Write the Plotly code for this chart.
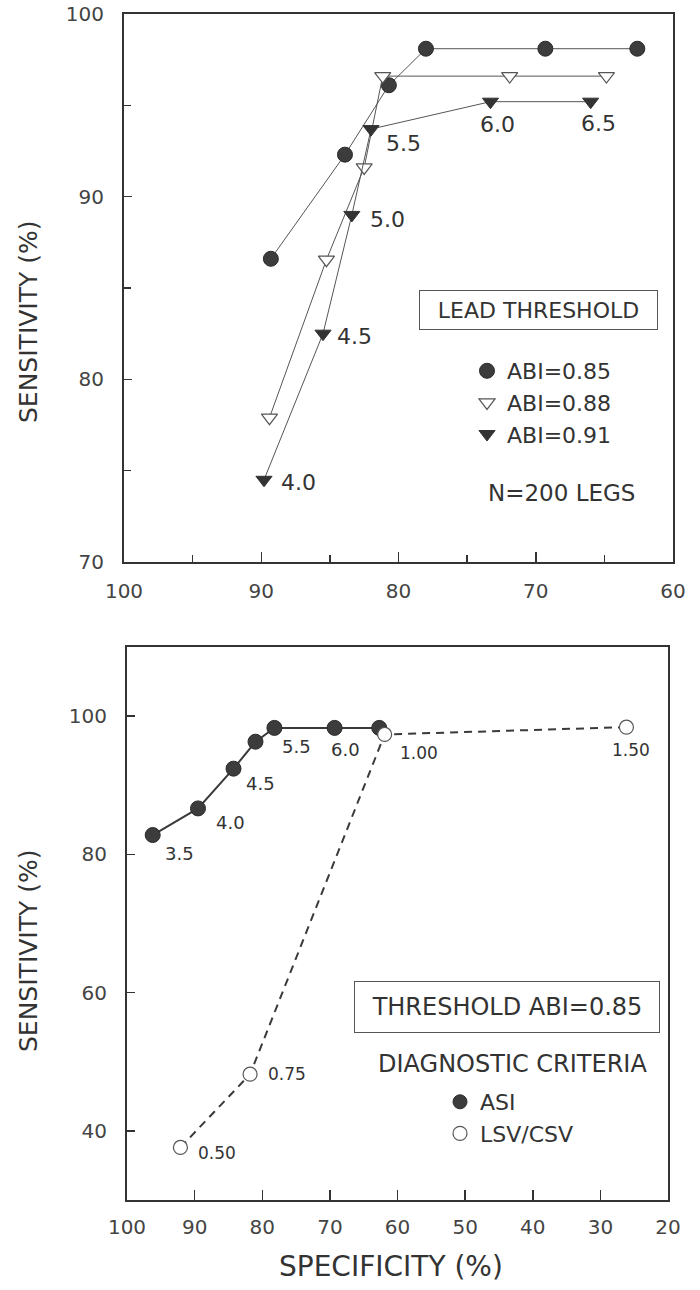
import plotly.graph_objects as go

# ---------------- data ----------------
# Top panel: lead threshold, three ABI cut-offs
lead_labels = ["4.0", "4.5", "5.0", "5.5", "6.0", "6.5"]
spec_abi085 = [89.3, 83.9, 80.7, 78.0, 69.3, 62.6]
sens_abi085 = [86.6, 92.3, 96.1, 98.1, 98.1, 98.1]
spec_abi088 = [89.4, 85.25, 82.5, 81.15, 71.9, 64.85]
sens_abi088 = [77.9, 86.55, 91.6, 96.6, 96.6, 96.6]
spec_abi091 = [89.8, 85.5, 83.4, 82.0, 73.3, 66.0]
sens_abi091 = [74.5, 82.5, 89.0, 93.7, 95.2, 95.2]

# Bottom panel: threshold ABI=0.85, two diagnostic criteria
asi_labels = ["3.5", "4.0", "4.5", "5.0", "5.5", "6.0", "6.5"]
asi_spec = [96.2, 89.5, 84.25, 81.0, 78.2, 69.3, 62.7]
asi_sens = [82.8, 86.65, 92.4, 96.3, 98.3, 98.3, 98.3]
lsv_labels = ["0.50", "0.75", "1.00", "1.50"]
lsv_spec = [92.1, 81.8, 61.9, 26.15]
lsv_sens = [37.6, 48.2, 97.35, 98.4]

top_xticks = [100, 90, 80, 70, 60]
top_yticks = [70, 80, 90, 100]
bot_xticks = [100, 90, 80, 70, 60, 50, 40, 30, 20]
bot_yticks = [40, 60, 80, 100]

# ---------------- style ----------------
FONT = "DejaVu Sans"
INK = "#333333"
W, H = 700, 1290

def px(x):
    return x / W

def py(y):
    return 1 - y / H

fig = go.Figure()

line_thin = dict(color="#555555", width=1)

fig.add_trace(go.Scatter(x=spec_abi085, y=sens_abi085, mode="lines+markers",
                         line=line_thin, showlegend=False,
                         marker=dict(symbol="circle", size=15, color="#3c3c3c",
                                     line=dict(color="#2a2a2a", width=1)),
                         xaxis="x", yaxis="y"))
fig.add_trace(go.Scatter(x=spec_abi088, y=sens_abi088, mode="lines+markers",
                         line=line_thin, showlegend=False,
                         marker=dict(symbol="triangle-down", size=14, color="white",
                                     line=dict(color="#555555", width=1.2)),
                         xaxis="x", yaxis="y"))
fig.add_trace(go.Scatter(x=spec_abi091, y=sens_abi091, mode="lines+markers",
                         line=line_thin, showlegend=False,
                         marker=dict(symbol="triangle-down", size=14, color="#333333",
                                     line=dict(color="#333333", width=1)),
                         xaxis="x", yaxis="y"))

# legend-only entries (markers only)
fig.add_trace(go.Scatter(x=[None], y=[None], mode="markers", name="ABI=0.85",
                         marker=dict(symbol="circle", size=15, color="#3c3c3c",
                                     line=dict(color="#2a2a2a", width=1)),
                         legend="legend", xaxis="x", yaxis="y"))
fig.add_trace(go.Scatter(x=[None], y=[None], mode="markers", name="ABI=0.88",
                         marker=dict(symbol="triangle-down", size=14, color="white",
                                     line=dict(color="#555555", width=1.2)),
                         legend="legend", xaxis="x", yaxis="y"))
fig.add_trace(go.Scatter(x=[None], y=[None], mode="markers", name="ABI=0.91",
                         marker=dict(symbol="triangle-down", size=14, color="#333333",
                                     line=dict(color="#333333", width=1)),
                         legend="legend", xaxis="x", yaxis="y"))

# bottom panel
fig.add_trace(go.Scatter(x=asi_spec, y=asi_sens, mode="lines+markers",
                         line=dict(color="#3a3a3a", width=2), showlegend=False,
                         marker=dict(symbol="circle", size=15, color="#3c3c3c",
                                     line=dict(color="#2a2a2a", width=1)),
                         xaxis="x2", yaxis="y2"))
fig.add_trace(go.Scatter(x=lsv_spec, y=lsv_sens, mode="lines+markers",
                         line=dict(color="#3a3a3a", width=2, dash="8px,6px"),
                         showlegend=False,
                         marker=dict(symbol="circle", size=14, color="white",
                                     line=dict(color="#555555", width=1.2)),
                         xaxis="x2", yaxis="y2"))
fig.add_trace(go.Scatter(x=[None], y=[None], mode="markers", name="ASI",
                         marker=dict(symbol="circle", size=14, color="#3c3c3c",
                                     line=dict(color="#2a2a2a", width=1)),
                         legend="legend2", xaxis="x2", yaxis="y2"))
fig.add_trace(go.Scatter(x=[None], y=[None], mode="markers", name="LSV/CSV",
                         marker=dict(symbol="circle", size=14, color="white",
                                     line=dict(color="#555555", width=1.2)),
                         legend="legend2", xaxis="x2", yaxis="y2"))

annotations = []

# point labels, top panel (ABI=0.91 series)
top_offsets = [(34, -3), (31, -3), (36, -5), (32, -14), (7, -23), (8, -22)]
for xv, yv, lab, (dx, dy) in zip(spec_abi091, sens_abi091, lead_labels, top_offsets):
    annotations.append(dict(x=xv, y=yv, xref="x", yref="y", text=lab, showarrow=False,
                            xshift=dx, yshift=dy, xanchor="center", yanchor="middle",
                            font=dict(family=FONT, size=22, color=INK)))

# point labels, bottom panel
asi_offsets = [(27, -18), (32, -14), (27, -15), None, (22, -19), (11, -22), None]
for xv, yv, lab, off in zip(asi_spec, asi_sens, asi_labels, asi_offsets):
    if off is None:
        continue
    annotations.append(dict(x=xv, y=yv, xref="x2", yref="y2", text=lab, showarrow=False,
                            xshift=off[0], yshift=off[1], xanchor="center", yanchor="middle",
                            font=dict(family=FONT, size=18, color=INK)))
lsv_offsets = [(37, -6), (37, 0), (34, -19), (5, -23)]
for xv, yv, lab, (dx, dy) in zip(lsv_spec, lsv_sens, lsv_labels, lsv_offsets):
    annotations.append(dict(x=xv, y=yv, xref="x2", yref="y2", text=lab, showarrow=False,
                            xshift=dx, yshift=dy, xanchor="center", yanchor="middle",
                            font=dict(family=FONT, size=17, color=INK)))

def note(x, y, text, size, **kw):
    d = dict(x=px(x), y=py(y), xref="paper", yref="paper", text=text,
             showarrow=False, xanchor="center", yanchor="middle",
             font=dict(family=FONT, size=size, color=INK))
    d.update(kw)
    annotations.append(d)

# boxed headings and notes
note(538, 310, "LEAD THRESHOLD", 22, width=233, height=34, borderpad=2,
     bordercolor="#555555", borderwidth=1)
note(561, 493, "N=200 LEGS", 23)
note(507, 1007, "THRESHOLD ABI=0.85", 24, width=300, height=46, borderpad=2,
     bordercolor="#555555", borderwidth=1)
note(512, 1064, "DIAGNOSTIC CRITERIA", 24)

# axis titles
note(29, 322, "SENSITIVITY (%)", 25, textangle=-90)
note(29, 951, "SENSITIVITY (%)", 25, textangle=-90)
note(391, 1266, "SPECIFICITY (%)", 28)

axis_common = dict(showgrid=False, zeroline=False, showline=True, mirror=True,
                   automargin=False, ticklabeloverflow="allow",
                   linecolor=INK, linewidth=2, ticks="inside", tickcolor=INK,
                   tickwidth=1.5, tickfont=dict(family=FONT, size=20, color="#444444"))

fig.update_layout(
    template="none",
    width=W, height=H,
    margin=dict(l=0, r=0, t=0, b=0, pad=0, autoexpand=False),
    paper_bgcolor="white", plot_bgcolor="white",
    font=dict(family=FONT, color=INK),
    xaxis=dict(domain=[px(124), px(673)], range=[100, 60], tickvals=top_xticks,
               ticklen=10, ticklabelstandoff=10,
               minor=dict(dtick=5, ticks="inside", ticklen=7, tickcolor=INK),
               anchor="y", **axis_common),
    yaxis=dict(domain=[py(562), py(14)], range=[70, 100], tickvals=top_yticks,
               ticklen=8, ticklabelstandoff=14,
               minor=dict(dtick=5, ticks="inside", ticklen=7, tickcolor=INK),
               anchor="x", **axis_common),
    xaxis2=dict(domain=[px(127), px(668)], range=[100, 20], tickvals=bot_xticks,
                ticklen=10, ticklabelstandoff=8, anchor="y2", **axis_common),
    yaxis2=dict(domain=[py(1200), py(647)], range=[30, 110], tickvals=bot_yticks,
                ticklen=8, ticklabelstandoff=14, anchor="x2", **axis_common),
    legend=dict(x=px(467), y=py(350), xanchor="left", yanchor="top",
                bgcolor="rgba(0,0,0,0)", borderwidth=0,
                font=dict(family=FONT, size=22, color=INK)),
    legend2=dict(x=px(440), y=py(1081), xanchor="left", yanchor="top",
                 bgcolor="rgba(0,0,0,0)", borderwidth=0,
                 font=dict(family=FONT, size=22, color=INK)),
    annotations=annotations,
)

# remove the default page margin so the figure fills the window exactly
fig.write_html("out.html",
               config={"displayModeBar": False, "staticPlot": True},
               post_script="document.body.style.margin='0';"
                           "document.body.style.overflow='hidden';")
